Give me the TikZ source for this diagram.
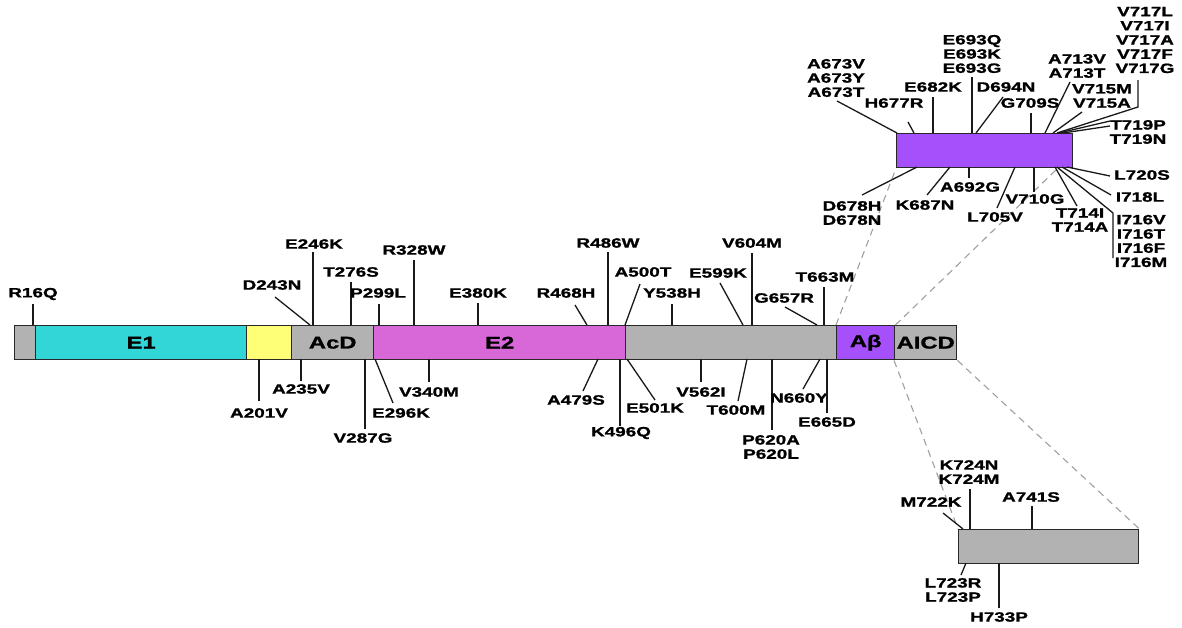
\documentclass[tikz,border=0pt]{standalone}
\usepackage{fontspec}
\newfontfamily\lblfont{Liberation Sans}[FakeStretch=1.4, BoldFeatures={FakeBold=1.3}]
\definecolor{bargrey}{RGB}{178,178,178}
\definecolor{econe}{RGB}{51,214,214}
\definecolor{yel}{RGB}{255,255,119}
\definecolor{ectwo}{RGB}{216,104,216}
\definecolor{abpurple}{RGB}{165,80,250}
\definecolor{outl}{RGB}{40,40,40}
\definecolor{dashgrey}{RGB}{160,160,160}
\newcommand\mut[8]{%
  \node[lbl] (#1) at (#2,#3) {#4};
  \coordinate (#1a) at (#5,#6);
  \coordinate (#1b) at (#7,#8);
  \draw[tick] (#1a) -- (#1b);}
\begin{document}
\begin{tikzpicture}[x=1pt,y=-1pt,
  seg/.style={draw=outl, line width=1.4pt, minimum height=34pt, inner sep=0pt, anchor=north west,
    font=\lblfont\bfseries\fontsize{17}{18}\selectfont},
  lbl/.style={inner sep=0pt, align=center, font=\lblfont\bfseries\fontsize{13.5}{14.2}\selectfont},
  tick/.style={draw=black!90, line width=1.3pt},
  zoomline/.style={draw=dashgrey, line width=1.1pt, dash pattern=on 7pt off 5pt}]
\fill[white] (0,0) rectangle (1182,627);
\useasboundingbox (0,0) rectangle (1182,627);
% main bar
\node[seg, fill=bargrey, minimum width=21pt] (g0) at (14,325) {};
\node[seg, fill=econe, minimum width=211pt] (e1) at (35,325) {E1};
\node[seg, fill=yel, minimum width=45pt] (yb) at (246,325) {};
\node[seg, fill=bargrey, minimum width=82pt] (acd) at (291,325) {AcD};
\node[seg, fill=ectwo, minimum width=252pt] (e2) at (373,325) {E2};
\node[seg, fill=bargrey, minimum width=211pt] (g1) at (625,325) {};
\node[seg, fill=abpurple, minimum width=58pt] (ab) at (836,325) {Aβ};
\node[seg, fill=bargrey, minimum width=62pt] (aicd) at (894,325) {AICD};
% zoom boxes
\node[seg, fill=abpurple, minimum width=176pt] (abz) at (896,133) {};
\node[seg, fill=bargrey, minimum width=180pt] (aicdz) at (958,529) {};
% dashed zoom lines
\coordinate (abzr) at (1059,167);
\draw[zoomline] (ab.north west) -- (abz.south west);
\draw[zoomline] (ab.north east) -- (abzr);
\draw[zoomline] (aicd.south west) -- (aicdz.north west);
\draw[zoomline] (aicd.south east) -- (aicdz.north east);
% above main bar
\mut{m1}{33}{294}{R16Q}{33}{304}{33}{325}
\mut{m2}{272}{285}{D243N}{275}{297}{310}{325}
\mut{m3}{314}{244}{E246K}{313}{252}{313}{325}
\mut{m4}{351}{272}{T276S}{351}{282}{351}{325}
\mut{m5}{378}{293}{P299L}{379}{304}{379}{325}
\mut{m6}{414}{250}{R328W}{414}{260}{414}{325}
\mut{m7}{478}{293}{E380K}{478}{303}{478}{325}
\mut{m8}{566}{293}{R468H}{575}{305}{587}{325}
\mut{m9}{608}{243}{R486W}{608}{252}{608}{325}
\mut{m10}{643}{272}{A500T}{640}{284}{625}{325}
\mut{m11}{672}{293}{Y538H}{672}{304}{672}{325}
\mut{m12}{718}{273}{E599K}{720}{283}{743}{325}
\mut{m13}{752}{243}{V604M}{752}{253}{752}{325}
\mut{m14}{784}{298}{G657R}{785}{307}{817}{325}
\mut{m15}{825}{277}{T663M}{824}{287}{824}{325}
% below main bar
\mut{m16}{259}{413}{A201V}{259}{359}{259}{401}
\mut{m17}{301}{389}{A235V}{301}{359}{301}{381}
\mut{m18}{363}{438}{V287G}{365}{359}{365}{429}
\mut{m19}{401}{413}{E296K}{375}{359}{393}{403}
\mut{m20}{429}{392}{V340M}{429}{359}{429}{382}
\mut{m21}{576}{400}{A479S}{598}{359}{583}{391}
\mut{m22}{621}{433}{K496Q}{620}{359}{620}{426}
\mut{m23}{655}{408}{E501K}{627}{359}{655}{400}
\mut{m24}{701}{392}{V562I}{701}{359}{701}{382}
\mut{m25}{736}{410}{T600M}{747}{359}{738}{401}
\mut{m26}{771}{447}{P620A\\P620L}{772}{359}{772}{430}
\mut{m27}{799}{398}{N660Y}{820}{359}{803}{389}
\mut{m28}{827}{422}{E665D}{827}{359}{827}{413}
% Abeta zoom, top
\mut{m29}{836}{78}{A673V\\A673Y\\A673T}{837}{101}{897}{133}
\mut{m30}{894}{103}{H677R}{908}{122}{914}{133}
\mut{m31}{933}{87}{E682K}{933}{97}{933}{133}
\mut{m32}{972}{54}{E693Q\\E693K\\E693G}{972}{77}{972}{133}
\mut{m33}{1006}{87}{D694N}{1003}{97}{976}{133}
\mut{m34}{1030}{103}{G709S}{1031}{113}{1031}{133}
\mut{m35}{1077}{66}{A713V\\A713T}{1070}{82}{1045}{133}
\mut{m36}{1102}{96}{V715M\\V715A}{1082}{112}{1053}{133}
\node[lbl] (m37) at (1145,40) {V717L\\V717I\\V717A\\V717F\\V717G};
\coordinate (m37a) at (1138,80);
\coordinate (m37k) at (1138,107);
\coordinate (m37b) at (1057,133);
\draw[tick] (m37a) -- (m37k) -- (m37b);
\node[lbl] (m38) at (1138,132) {T719P\\T719N};
\coordinate (m38a) at (1110,121);
\coordinate (m38b) at (1059,133);
\coordinate (m38c) at (1110,126);
\coordinate (m38d) at (1063,133);
\draw[tick] (m38a) -- (m38b);
\draw[tick] (m38c) -- (m38d);
% Abeta zoom, bottom
\mut{m39}{852}{213}{D678H\\D678N}{862}{195}{917}{167}
\mut{m40}{925}{205}{K687N}{927}{195}{950}{167}
\mut{m41}{970}{187}{A692G}{969}{167}{969}{178}
\mut{m42}{995}{217}{L705V}{997}{208}{1015}{167}
\mut{m43}{1035}{199}{V710G}{1034}{167}{1034}{192}
\mut{m44}{1080}{220}{T714I\\T714A}{1077}{206}{1055}{167}
\mut{m45}{1142}{175}{L720S}{1110}{176}{1067}{167}
\mut{m46}{1140}{197}{I718L}{1111}{195}{1062}{167}
\node[lbl] (m47) at (1141,241) {I716V\\I716T\\I716F\\I716M};
\coordinate (m47a) at (1057,167);
\coordinate (m47k) at (1113,213);
\coordinate (m47b) at (1113,258);
\draw[tick] (m47a) -- (m47k) -- (m47b);
% AICD zoom
\mut{m48}{969}{472}{K724N\\K724M}{970}{489}{970}{529}
\mut{m49}{931}{502}{M722K}{943}{513}{963}{529}
\mut{m50}{1031}{497}{A741S}{1032}{506}{1032}{529}
\mut{m51}{953}{590}{L723R\\L723P}{966}{563}{961}{575}
\mut{m52}{999}{617}{H733P}{999}{563}{999}{608}
\end{tikzpicture}
\end{document}
